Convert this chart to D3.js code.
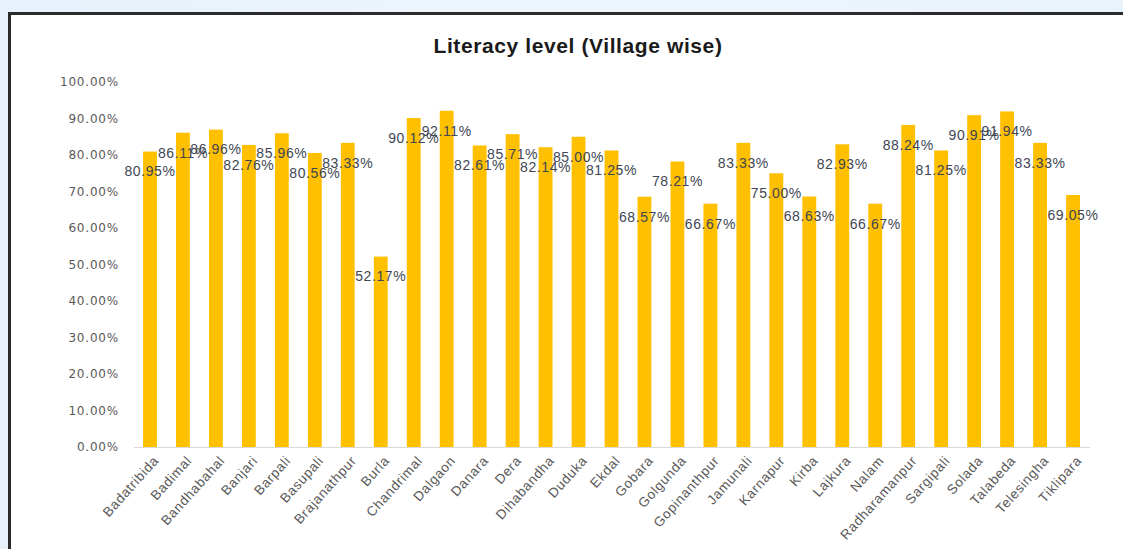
<!DOCTYPE html>
<html><head><meta charset="utf-8">
<script src="https://cdn.jsdelivr.net/npm/d3@7"></script>
<style>
html,body{margin:0;padding:0;}
body{width:1123px;height:549px;overflow:hidden;background:linear-gradient(90deg,#e6f1fb,#eef6fd 50%,#e9f3fc);}
</style></head>
<body>
<svg id="chart" width="1123" height="549"></svg>
<script>
const villages = ["Badatribida","Badimal","Bandhabahal","Banjari","Barpali","Basupali","Brajanathpur","Burla","Chandrimal","Dalgaon","Danara","Dera","Dihabandha","Duduka","Ekdal","Gobara","Golgunda","Gopinanthpur","Jamunali","Karnapur","Kirba","Lajkura","Nalam","Radharamanpur","Sargipali","Solada","Talabeda","Telesingha","Tiklipara"];
const literacy = [80.95,86.11,86.96,82.76,85.96,80.56,83.33,52.17,90.12,92.11,82.61,85.71,82.14,85.00,81.25,68.57,78.21,66.67,83.33,75.00,68.63,82.93,66.67,88.24,81.25,90.91,91.94,83.33,69.05];
const yTicks = [0,10,20,30,40,50,60,70,80,90,100];
const title = "Literacy level (Village wise)";

const svg = d3.select("#chart");
// frame
svg.append("rect").attr("x",9.5).attr("y",13.5).attr("width",1130).attr("height",560)
  .attr("fill","#ffffff").attr("stroke","#2b2b2b").attr("stroke-width",3);

const x = d3.scaleBand().domain(villages).range([133.5,1089.5]).paddingInner(0.58).paddingOuter(0.29);
const y = d3.scaleLinear().domain([0,100]).range([447,82]);

svg.append("text").attr("x",578).attr("y",53).attr("text-anchor","middle")
  .attr("font-family","Liberation Sans, Arial, sans-serif").attr("font-weight","bold")
  .attr("font-size",21).attr("letter-spacing","0.6").attr("fill","#1a1a1a").text(title);

// y axis labels
const yAxis = d3.axisLeft(y).tickValues(yTicks).tickSize(0).tickPadding(0)
  .tickFormat(d => d.toFixed(2) + "%");
const gy = svg.append("g").attr("transform","translate(119,0)").call(yAxis);
gy.select(".domain").remove();
gy.selectAll("text").attr("font-family","DejaVu Sans, sans-serif").attr("font-size",12)
  .attr("fill","#595959").attr("letter-spacing","0.8");

// bars
svg.append("g").selectAll("rect").data(villages).join("rect")
  .attr("x", d => x(d)).attr("width", x.bandwidth())
  .attr("y", (d,i) => y(literacy[i])).attr("height", (d,i) => y(0) - y(literacy[i]))
  .attr("fill","#FFC000");

// x axis
const xAxis = d3.axisBottom(x).tickSize(0).tickPadding(0);
const gx = svg.append("g").attr("transform","translate(0,447)").call(xAxis);
gx.select(".domain").attr("stroke","#d9d9d9").attr("stroke-width",1);
gx.selectAll("text").attr("font-family","Liberation Sans, Arial, sans-serif").attr("font-size",13.5)
  .attr("letter-spacing","0.7")
  .attr("fill","#595959").attr("text-anchor","end")
  .attr("transform","translate(6,11) rotate(-48)").attr("dy","0.35em").attr("y",0).attr("x",0);

// data labels
svg.append("g").selectAll("text").data(villages).join("text")
  .attr("x", d => x(d) + x.bandwidth()/2)
  .attr("y", (d,i) => y(literacy[i]) + 20)
  .attr("dy","0.35em").attr("text-anchor","middle")
  .attr("font-family","Liberation Sans, Arial, sans-serif").attr("font-size",14)
  .attr("letter-spacing","0.6")
  .attr("fill","#404653")
  .text((d,i) => literacy[i].toFixed(2) + "%");
</script>
</body></html>
